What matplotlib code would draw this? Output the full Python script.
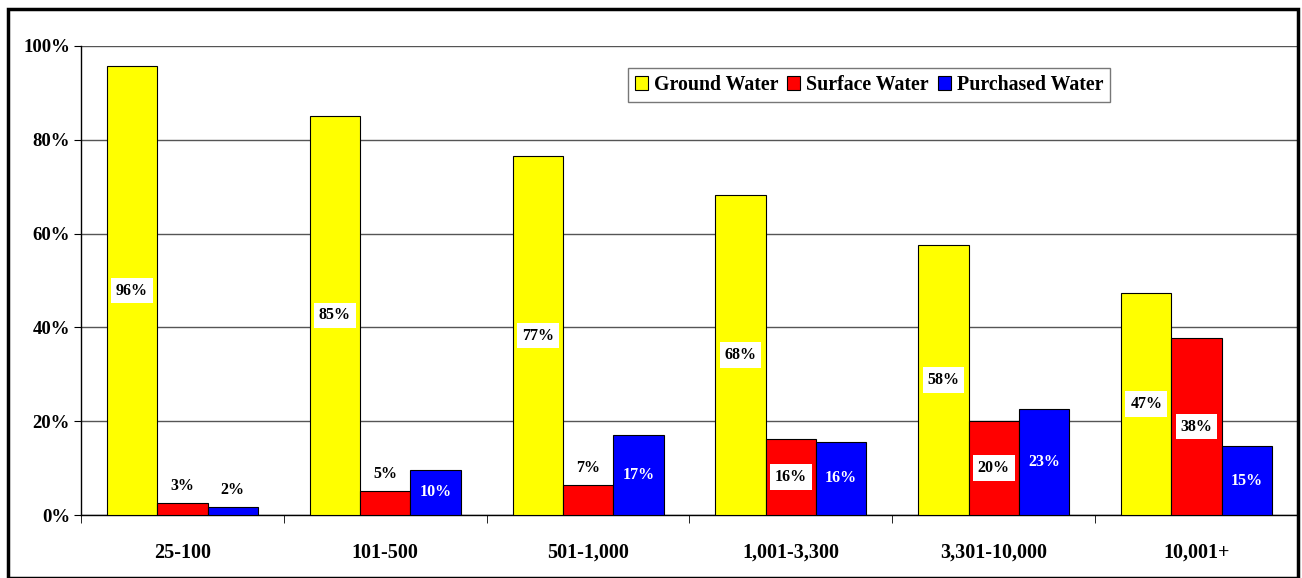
import matplotlib
matplotlib.use("Agg")
import matplotlib.pyplot as plt
from matplotlib.patches import Rectangle
import numpy as np

plt.rcParams['font.family'] = ['Liberation Serif', 'DejaVu Serif']
plt.rcParams['font.weight'] = 'bold'

kategooriad = ["25-100", "101-500", "501-1,000", "1,001-3,300", "3,301-10,000", "10,001+"]
pohjavesi = [95.7, 85.1, 76.5, 68.2, 57.6, 47.3]
pinnavesi = [2.6, 5.1, 6.4, 16.2, 20.0, 37.7]
ostetud = [1.7, 9.6, 17.1, 15.6, 22.6, 14.7]
pohjavesi_silt = ["96%", "85%", "77%", "68%", "58%", "47%"]
pinnavesi_silt = ["3%", "5%", "7%", "16%", "20%", "38%"]
ostetud_silt = ["2%", "10%", "17%", "16%", "23%", "15%"]

fig = plt.figure(figsize=(13.02, 5.78), dpi=100)
ax = fig.add_axes([81/1302, 1 - 515/578, 1217/1302, 469/578])

x = np.arange(len(kategooriad))
w = 0.248
seeriad = [
    (pohjavesi, pohjavesi_silt, "#ffff00", "Ground Water", -w),
    (pinnavesi, pinnavesi_silt, "#ff0000", "Surface Water", 0),
    (ostetud, ostetud_silt, "#0000ff", "Purchased Water", w),
]

for vals, sildid, varv, nimi, nihe in seeriad:
    ax.bar(x + nihe, vals, w, color=varv, edgecolor="black", linewidth=0.8,
           label=nimi, zorder=3)
    for xi, v, s in zip(x + nihe, vals, sildid):
        if v < 8:
            ax.text(xi, v + 3.6, s, ha="center", va="center", fontsize=11.5,
                    fontweight="bold", color="black", zorder=5)
        elif varv == "#0000ff":
            ax.text(xi, v / 2, s, ha="center", va="center", fontsize=11.5,
                    fontweight="bold", color="white", zorder=5)
        else:
            ax.text(xi, v / 2, s, ha="center", va="center", fontsize=11.5,
                    fontweight="bold", color="black", zorder=5,
                    bbox=dict(boxstyle="square,pad=0.3", facecolor="white", edgecolor="none"))

ax.set_xlim(-0.5, len(kategooriad) - 0.5)
ax.set_ylim(0, 100)
ax.set_yticks([0, 20, 40, 60, 80, 100])
ax.set_yticklabels(["0%", "20%", "40%", "60%", "80%", "100%"], fontsize=13.5, fontweight="bold")
ax.yaxis.grid(True, color="#555555", linewidth=1, zorder=0)
ax.set_xticks(x)
ax.set_xticklabels(kategooriad, fontsize=14.5, fontweight="bold")
ax.tick_params(axis="x", length=0, pad=20)
ax.set_xticks(np.arange(-0.5, len(kategooriad)), minor=True)
ax.tick_params(axis="x", which="minor", length=6, direction="out")
ax.tick_params(axis="y", length=5, direction="out", pad=3)
for k in ["top", "right"]:
    ax.spines[k].set_visible(False)
ax.spines["left"].set_linewidth(1)
ax.spines["bottom"].set_linewidth(1)

leg = ax.legend(loc="upper left", bbox_to_anchor=((628 - 81) / 1217, (515 - 68) / 469),
                ncol=3, frameon=True, fancybox=False, edgecolor="#555555",
                prop={"weight": "bold", "size": 14.3}, handlelength=0.65,
                handleheight=0.65, handletextpad=0.3, columnspacing=0.45,
                borderpad=0.35, borderaxespad=0)
leg.get_frame().set_linewidth(1)

fig.patches.append(Rectangle((8/1302, 0), 1290/1302, 1 - 9/578, transform=fig.transFigure,
                             fill=False, edgecolor="black", linewidth=2.5))

fig.savefig("out.png", dpi=100)
